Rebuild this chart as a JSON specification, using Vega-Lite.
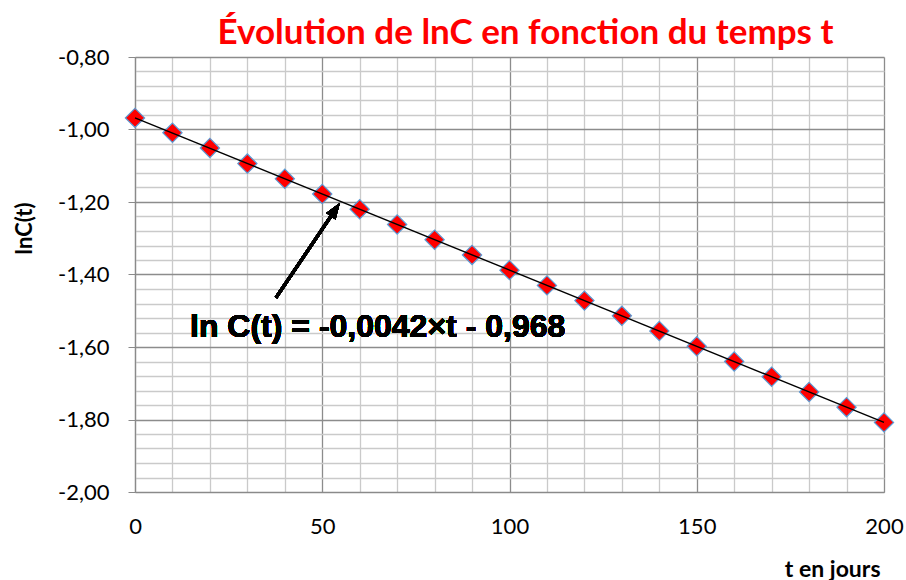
{
  "$schema": "https://vega.github.io/schema/vega-lite/v6.json",
  "width": 749,
  "height": 435,
  "autosize": {"type": "none"},
  "padding": {"left": 135, "right": 22, "top": 57, "bottom": 88},
  "background": "white",
  "title": {
    "text": "Évolution de lnC en fonction du temps t",
    "font": "Lato",
    "fontSize": 35,
    "fontWeight": "bold",
    "color": "#ff0000",
    "anchor": "middle",
    "dx": 16,
    "offset": -5
  },
  "config": {
    "view": {"stroke": null},
    "axis": {
      "labelFont": "Lato",
      "titleFont": "Lato",
      "labelColor": "#000000",
      "titleColor": "#000000",
      "domainColor": "#8a8a8a",
      "domainWidth": 1.2
    }
  },
  "data": {
    "values": [
      {"t": 0, "lnC": -0.968},
      {"t": 10, "lnC": -1.009},
      {"t": 20, "lnC": -1.051},
      {"t": 30, "lnC": -1.094},
      {"t": 40, "lnC": -1.136},
      {"t": 50, "lnC": -1.178},
      {"t": 60, "lnC": -1.220},
      {"t": 70, "lnC": -1.262},
      {"t": 80, "lnC": -1.304},
      {"t": 90, "lnC": -1.346},
      {"t": 100, "lnC": -1.388},
      {"t": 110, "lnC": -1.430},
      {"t": 120, "lnC": -1.472},
      {"t": 130, "lnC": -1.514},
      {"t": 140, "lnC": -1.556},
      {"t": 150, "lnC": -1.598},
      {"t": 160, "lnC": -1.640},
      {"t": 170, "lnC": -1.682},
      {"t": 180, "lnC": -1.724},
      {"t": 190, "lnC": -1.766},
      {"t": 200, "lnC": -1.808}
    ]
  },
  "encoding": {
    "x": {
      "field": "t",
      "type": "quantitative",
      "scale": {"domain": [0, 200], "nice": false, "zero": false},
      "axis": {
        "values": [0, 10, 20, 30, 40, 50, 60, 70, 80, 90, 100, 110, 120, 130, 140, 150, 160, 170, 180, 190, 200],
        "labelExpr": "datum.value % 50 === 0 ? datum.label : ''",
        "labelFontSize": 22,
        "labelPadding": 24,
        "labelFlush": false,
        "labelOverlap": false,
        "labelBound": false,
        "ticks": false,
        "grid": true,
        "gridColor": {"condition": {"test": "datum.value % 50 === 0", "value": "#8c8c8c"}, "value": "#cacaca"},
        "gridWidth": 1.3,
        "title": "t en jours",
        "titleFontSize": 23,
        "titleFontWeight": "bold",
        "titleAlign": "right",
        "titleBaseline": "middle",
        "titleAnchor": null,
        "titleX": 745,
        "titleY": 77
      }
    },
    "y": {
      "field": "lnC",
      "type": "quantitative",
      "scale": {"domain": [-2, -0.8], "nice": false, "zero": false},
      "axis": {
        "values": [-2, -1.96, -1.92, -1.88, -1.84, -1.8, -1.76, -1.72, -1.68, -1.64, -1.6, -1.56, -1.52, -1.48, -1.44, -1.4, -1.36, -1.32, -1.28, -1.24, -1.2, -1.16, -1.12, -1.08, -1.04, -1, -0.96, -0.92, -0.88, -0.84, -0.8],
        "labelExpr": "abs(datum.value*5 - round(datum.value*5)) < 0.001 ? '-' + replace(format(abs(datum.value), '.2f'), '.', ',') : ''",
        "labelFontSize": 22,
        "labelPadding": 19,
        "labelOverlap": false,
        "labelBound": false,
        "labelFlush": false,
        "ticks": true,
        "tickSize": 7,
        "tickColor": "#8a8a8a",
        "tickOpacity": {"condition": {"test": "abs(datum.value*5 - round(datum.value*5)) < 0.001", "value": 1}, "value": 0},
        "grid": true,
        "gridColor": {"condition": {"test": "abs(datum.value*5 - round(datum.value*5)) < 0.001", "value": "#8c8c8c"}, "value": "#cacaca"},
        "gridWidth": 1.3,
        "title": "lnC(t)",
        "titleFontSize": 22,
        "titleFontWeight": "bold",
        "titleAngle": -90,
        "titleAlign": "center",
        "titleBaseline": "middle",
        "titleAnchor": null,
        "titleX": -111,
        "titleY": 171
      }
    }
  },
  "layer": [
    {
      "mark": {"type": "point", "shape": "diamond", "filled": true, "fill": "#ff0000", "stroke": "#5b9bd5", "strokeWidth": 1.2, "size": 370, "opacity": 1}
    },
    {
      "transform": [{"regression": "lnC", "on": "t", "method": "linear", "extent": [0, 200]}],
      "mark": {"type": "line", "color": "#000000", "strokeWidth": 1.4}
    },
    {
      "mark": {"type": "rule", "color": "#000000", "strokeWidth": 3},
      "encoding": {
        "x": {"datum": 37.65},
        "y": {"datum": -1.464},
        "x2": {"datum": 52.6},
        "y2": {"datum": -1.235}
      }
    },
    {
      "mark": {"type": "point", "shape": "M0,-1L0.7,1L-0.7,1Z", "filled": true, "fill": "#000000", "stroke": null, "size": 256, "opacity": 1},
      "encoding": {
        "x": {"datum": 53.5},
        "y": {"datum": -1.221},
        "angle": {"value": 34}
      }
    },
    {
      "mark": {"type": "text", "text": "ln C(t) = -0,0042×t - 0,968", "font": "Liberation Sans", "fontWeight": "bold", "fontSize": 32, "align": "left", "baseline": "alphabetic", "color": "#000000"},
      "encoding": {
        "x": {"datum": 14.69},
        "y": {"datum": -1.5724}
      }
    }
  ]
}
